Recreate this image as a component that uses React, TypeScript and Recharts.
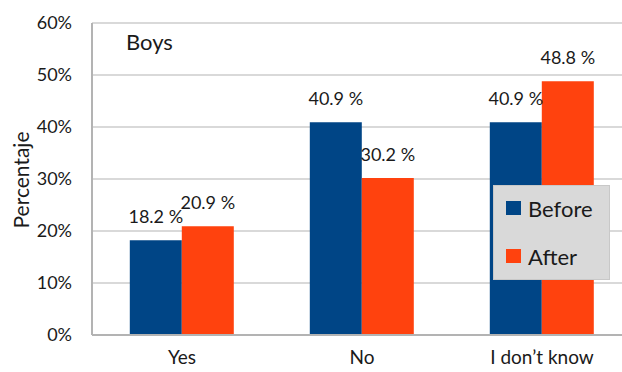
import {Bar, BarChart, CartesianGrid, Customized, LabelList, XAxis, YAxis} from 'recharts';

const categories = ['Yes', 'No', 'I don’t know'];
const beforeValues = [18.2, 40.9, 40.9];
const afterValues = [20.9, 30.2, 48.8];
const yTicks = [0, 10, 20, 30, 40, 50, 60];

const chartData = categories.map((answer, i) => ({
  answer,
  before: beforeValues[i],
  after: afterValues[i],
}));

const FONT = 'Lato, "Open Sans", sans-serif';
const BLUE = '#004586';
const ORANGE = '#ff420e';
const GRID = '#b3b3b3';
const TEXT = '#1a1a1a';

const legendItems = [
  {name: 'Before', color: BLUE},
  {name: 'After', color: ORANGE},
];

const formatValue = (v: number) => `${v.toFixed(1)} %`;

// legend sits over the plot, so it is drawn outside the chart's layout
function LegendBox() {
  return (
    <div
      style={{
        position: 'absolute',
        left: 493,
        top: 185,
        width: 117,
        height: 95,
        background: '#d9d9d9',
        border: '1px solid #c8c8c8',
        boxSizing: 'border-box',
        padding: '5px 0 0 12px',
        fontFamily: FONT,
        fontSize: 22,
        color: TEXT,
      }}
    >
      {legendItems.map((item) => (
        <div key={item.name} style={{display: 'flex', alignItems: 'center', height: 34, marginBottom: 14}}>
          <span style={{width: 15, height: 14, background: item.color, marginRight: 7, display: 'inline-block'}} />
          <span>{item.name}</span>
        </div>
      ))}
    </div>
  );
}

function ChartTitle() {
  return (
    <text x={126} y={50} fontFamily={FONT} fontSize={22} fill={TEXT}>
      Boys
    </text>
  );
}

export default function App() {
  return (
    <div style={{position: 'fixed', left: 0, top: 0, width: 622, height: 372, overflow: 'hidden', background: '#fff'}}>
      <BarChart
        width={650}
        height={372}
        data={chartData}
        margin={{top: 23, right: 18, left: 0, bottom: 7}}
        barCategoryGap="21%"
        barGap={0}
      >
        <CartesianGrid vertical={false} stroke={GRID} strokeWidth={1.2} />
        <XAxis
          dataKey="answer"
          height={30}
          tickLine={false}
          tickSize={0}
          tickMargin={16}
          axisLine={{stroke: GRID, strokeWidth: 2}}
          tick={{fontFamily: FONT, fontSize: 19, fill: TEXT}}
        />
        <YAxis
          domain={[0, 60]}
          ticks={yTicks}
          width={92}
          tickLine={false}
          tickSize={0}
          tickMargin={20}
          axisLine={{stroke: GRID, strokeWidth: 2}}
          tickFormatter={(v: number) => `${v}%`}
          tick={{fontFamily: FONT, fontSize: 18, fill: TEXT}}
          label={{
            content: () => (
              <text
                x={20}
                y={180}
                transform="rotate(-90, 20, 180)"
                textAnchor="middle"
                dominantBaseline="central"
                fontFamily={FONT}
                fontSize={21}
                fill={TEXT}
              >
                Percentaje
              </text>
            ),
          }}
        />
        <Bar dataKey="before" name="Before" fill={BLUE} isAnimationActive={false}>
          <LabelList
            dataKey="before"
            position="top"
            offset={17}
            formatter={formatValue}
            style={{fontFamily: FONT, fontSize: 18, fill: TEXT}}
          />
        </Bar>
        <Bar dataKey="after" name="After" fill={ORANGE} isAnimationActive={false}>
          <LabelList
            dataKey="after"
            position="top"
            offset={17}
            formatter={formatValue}
            style={{fontFamily: FONT, fontSize: 18, fill: TEXT}}
          />
        </Bar>
        <Customized component={ChartTitle} />
      </BarChart>
      <LegendBox />
    </div>
  );
}
